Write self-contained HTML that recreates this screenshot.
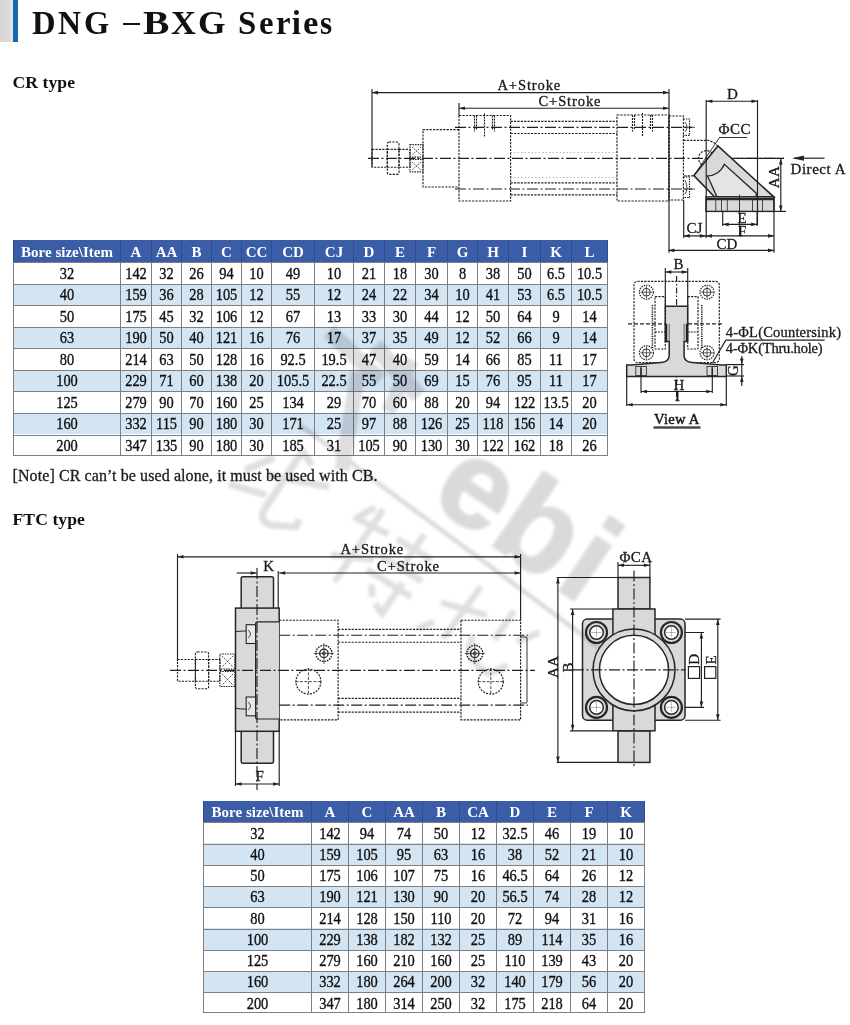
<!DOCTYPE html>
<html><head><meta charset="utf-8">
<style>
html,body{margin:0;padding:0;background:#fff;}
body{width:850px;height:1025px;position:relative;overflow:hidden;font-family:"Liberation Serif",serif;color:#1a1a1a;}
.abs{position:absolute;}
.tbl{position:absolute;}
.tbl div{position:absolute;}
.hd{background:#3b5ca7;}
.hl{left:0;height:1px;background:#7d7f82;}
.vl{width:1px;background:#7d7f82;}
.vlh{top:0;width:1px;background:#2e4d94;}
.ht{color:#fff;font-weight:bold;text-align:center;white-space:nowrap;}
.bt{color:#111;text-align:center;white-space:nowrap;transform:scaleX(0.9);-webkit-text-stroke:0.35px #111;}
.title{position:absolute;top:7px;transform-origin:0 0;font-size:33px;line-height:33px;font-weight:bold;white-space:nowrap;color:#111;}
.h2{position:absolute;font-size:17.6px;letter-spacing:0.08px;line-height:20px;font-weight:bold;white-space:nowrap;color:#111;}
.note{position:absolute;font-size:16px;line-height:18px;letter-spacing:0.09px;-webkit-text-stroke:0.3px #1b1b1b;white-space:nowrap;color:#1b1b1b;}
svg{position:absolute;left:0;top:0;}
</style></head><body>
<div class="abs" style="left:0;top:0;width:13px;height:42px;background:linear-gradient(90deg,#d6d6d6,#dcdcdc 70%,#e6e6e6)"></div>
<div class="abs" style="left:13px;top:0;width:5px;height:42px;background:#1767b0"></div>
<div class="title" style="left:32.01px;transform:scaleX(0.990)">D</div><div class="title" style="left:58.14px;transform:scaleX(0.964)">N</div><div class="title" style="left:84.23px;transform:scaleX(0.983)">G</div><div class="abs" style="left:122.5px;top:22.6px;width:17px;height:2.9px;background:#141414"></div><div class="title" style="left:142.70px;transform:scaleX(1.200)">B</div><div class="title" style="left:171.06px;transform:scaleX(1.043)">X</div><div class="title" style="left:198.25px;transform:scaleX(1.074)">G</div><div class="title" style="left:237.71px;transform:scaleX(0.993)">S</div><div class="title" style="left:258.81px;transform:scaleX(0.992)">e</div><div class="title" style="left:275.61px;transform:scaleX(0.992)">r</div><div class="title" style="left:291.65px;transform:scaleX(1.000)">i</div><div class="title" style="left:303.35px;transform:scaleX(1.046)">e</div><div class="title" style="left:319.65px;transform:scaleX(0.945)">s</div>
<div class="h2" style="left:12.5px;top:71.5px">CR type</div>
<div class="tbl" style="left:13px;top:240px;width:595px;height:215.95px">
<div class="hd" style="left:0;top:0;width:595px;height:22.00px"></div>
<div class="rw" style="left:0;top:22.00px;width:595px;height:21.55px;background:#ffffff"></div>
<div class="rw" style="left:0;top:43.55px;width:595px;height:21.55px;background:#d3e4f2"></div>
<div class="rw" style="left:0;top:65.10px;width:595px;height:21.55px;background:#ffffff"></div>
<div class="rw" style="left:0;top:86.65px;width:595px;height:21.55px;background:#d3e4f2"></div>
<div class="rw" style="left:0;top:108.20px;width:595px;height:21.55px;background:#ffffff"></div>
<div class="rw" style="left:0;top:129.75px;width:595px;height:21.55px;background:#d3e4f2"></div>
<div class="rw" style="left:0;top:151.30px;width:595px;height:21.55px;background:#ffffff"></div>
<div class="rw" style="left:0;top:172.85px;width:595px;height:21.55px;background:#d3e4f2"></div>
<div class="rw" style="left:0;top:194.40px;width:595px;height:21.55px;background:#ffffff"></div>
<div class="hl" style="top:22.10px;width:595px"></div>
<div class="hl" style="top:43.65px;width:595px"></div>
<div class="hl" style="top:65.20px;width:595px"></div>
<div class="hl" style="top:86.75px;width:595px"></div>
<div class="hl" style="top:108.30px;width:595px"></div>
<div class="hl" style="top:129.85px;width:595px"></div>
<div class="hl" style="top:151.40px;width:595px"></div>
<div class="hl" style="top:172.95px;width:595px"></div>
<div class="hl" style="top:194.50px;width:595px"></div>
<div class="hl" style="top:215.05px;width:595px"></div>
<div class="vlh" style="left:0px;height:22.00px"></div>
<div class="vl" style="left:0px;top:22.00px;height:193.95px"></div>
<div class="vlh" style="left:107px;height:22.00px"></div>
<div class="vl" style="left:107px;top:22.00px;height:193.95px"></div>
<div class="vlh" style="left:138px;height:22.00px"></div>
<div class="vl" style="left:138px;top:22.00px;height:193.95px"></div>
<div class="vlh" style="left:168px;height:22.00px"></div>
<div class="vl" style="left:168px;top:22.00px;height:193.95px"></div>
<div class="vlh" style="left:198px;height:22.00px"></div>
<div class="vl" style="left:198px;top:22.00px;height:193.95px"></div>
<div class="vlh" style="left:228px;height:22.00px"></div>
<div class="vl" style="left:228px;top:22.00px;height:193.95px"></div>
<div class="vlh" style="left:258px;height:22.00px"></div>
<div class="vl" style="left:258px;top:22.00px;height:193.95px"></div>
<div class="vlh" style="left:301px;height:22.00px"></div>
<div class="vl" style="left:301px;top:22.00px;height:193.95px"></div>
<div class="vlh" style="left:340px;height:22.00px"></div>
<div class="vl" style="left:340px;top:22.00px;height:193.95px"></div>
<div class="vlh" style="left:371px;height:22.00px"></div>
<div class="vl" style="left:371px;top:22.00px;height:193.95px"></div>
<div class="vlh" style="left:402px;height:22.00px"></div>
<div class="vl" style="left:402px;top:22.00px;height:193.95px"></div>
<div class="vlh" style="left:434px;height:22.00px"></div>
<div class="vl" style="left:434px;top:22.00px;height:193.95px"></div>
<div class="vlh" style="left:464px;height:22.00px"></div>
<div class="vl" style="left:464px;top:22.00px;height:193.95px"></div>
<div class="vlh" style="left:495px;height:22.00px"></div>
<div class="vl" style="left:495px;top:22.00px;height:193.95px"></div>
<div class="vlh" style="left:527px;height:22.00px"></div>
<div class="vl" style="left:527px;top:22.00px;height:193.95px"></div>
<div class="vlh" style="left:558px;height:22.00px"></div>
<div class="vl" style="left:558px;top:22.00px;height:193.95px"></div>
<div class="vlh" style="left:594px;height:22.00px"></div>
<div class="vl" style="left:594px;top:22.00px;height:193.95px"></div>
<div class="ht" style="left:1px;width:106px;top:0.6px;height:22.00px;line-height:23.00px;font-size:15px">Bore size\Item</div>
<div class="ht" style="left:108px;width:30px;top:0.6px;height:22.00px;line-height:23.00px;font-size:15px">A</div>
<div class="ht" style="left:139px;width:29px;top:0.6px;height:22.00px;line-height:23.00px;font-size:15px">AA</div>
<div class="ht" style="left:169px;width:29px;top:0.6px;height:22.00px;line-height:23.00px;font-size:15px">B</div>
<div class="ht" style="left:199px;width:29px;top:0.6px;height:22.00px;line-height:23.00px;font-size:15px">C</div>
<div class="ht" style="left:229px;width:29px;top:0.6px;height:22.00px;line-height:23.00px;font-size:15px">CC</div>
<div class="ht" style="left:259px;width:42px;top:0.6px;height:22.00px;line-height:23.00px;font-size:15px">CD</div>
<div class="ht" style="left:302px;width:38px;top:0.6px;height:22.00px;line-height:23.00px;font-size:15px">CJ</div>
<div class="ht" style="left:341px;width:30px;top:0.6px;height:22.00px;line-height:23.00px;font-size:15px">D</div>
<div class="ht" style="left:372px;width:30px;top:0.6px;height:22.00px;line-height:23.00px;font-size:15px">E</div>
<div class="ht" style="left:403px;width:31px;top:0.6px;height:22.00px;line-height:23.00px;font-size:15px">F</div>
<div class="ht" style="left:435px;width:29px;top:0.6px;height:22.00px;line-height:23.00px;font-size:15px">G</div>
<div class="ht" style="left:465px;width:30px;top:0.6px;height:22.00px;line-height:23.00px;font-size:15px">H</div>
<div class="ht" style="left:496px;width:31px;top:0.6px;height:22.00px;line-height:23.00px;font-size:15px">I</div>
<div class="ht" style="left:528px;width:30px;top:0.6px;height:22.00px;line-height:23.00px;font-size:15px">K</div>
<div class="ht" style="left:559px;width:35px;top:0.6px;height:22.00px;line-height:23.00px;font-size:15px">L</div>
<div class="bt" style="left:1px;width:106px;top:22.50px;height:21.55px;line-height:21.55px;font-size:16px">32</div>
<div class="bt" style="left:108px;width:30px;top:22.50px;height:21.55px;line-height:21.55px;font-size:16px">142</div>
<div class="bt" style="left:139px;width:29px;top:22.50px;height:21.55px;line-height:21.55px;font-size:16px">32</div>
<div class="bt" style="left:169px;width:29px;top:22.50px;height:21.55px;line-height:21.55px;font-size:16px">26</div>
<div class="bt" style="left:199px;width:29px;top:22.50px;height:21.55px;line-height:21.55px;font-size:16px">94</div>
<div class="bt" style="left:229px;width:29px;top:22.50px;height:21.55px;line-height:21.55px;font-size:16px">10</div>
<div class="bt" style="left:259px;width:42px;top:22.50px;height:21.55px;line-height:21.55px;font-size:16px">49</div>
<div class="bt" style="left:302px;width:38px;top:22.50px;height:21.55px;line-height:21.55px;font-size:16px">10</div>
<div class="bt" style="left:341px;width:30px;top:22.50px;height:21.55px;line-height:21.55px;font-size:16px">21</div>
<div class="bt" style="left:372px;width:30px;top:22.50px;height:21.55px;line-height:21.55px;font-size:16px">18</div>
<div class="bt" style="left:403px;width:31px;top:22.50px;height:21.55px;line-height:21.55px;font-size:16px">30</div>
<div class="bt" style="left:435px;width:29px;top:22.50px;height:21.55px;line-height:21.55px;font-size:16px">8</div>
<div class="bt" style="left:465px;width:30px;top:22.50px;height:21.55px;line-height:21.55px;font-size:16px">38</div>
<div class="bt" style="left:496px;width:31px;top:22.50px;height:21.55px;line-height:21.55px;font-size:16px">50</div>
<div class="bt" style="left:528px;width:30px;top:22.50px;height:21.55px;line-height:21.55px;font-size:16px">6.5</div>
<div class="bt" style="left:559px;width:35px;top:22.50px;height:21.55px;line-height:21.55px;font-size:16px">10.5</div>
<div class="bt" style="left:1px;width:106px;top:44.05px;height:21.55px;line-height:21.55px;font-size:16px">40</div>
<div class="bt" style="left:108px;width:30px;top:44.05px;height:21.55px;line-height:21.55px;font-size:16px">159</div>
<div class="bt" style="left:139px;width:29px;top:44.05px;height:21.55px;line-height:21.55px;font-size:16px">36</div>
<div class="bt" style="left:169px;width:29px;top:44.05px;height:21.55px;line-height:21.55px;font-size:16px">28</div>
<div class="bt" style="left:199px;width:29px;top:44.05px;height:21.55px;line-height:21.55px;font-size:16px">105</div>
<div class="bt" style="left:229px;width:29px;top:44.05px;height:21.55px;line-height:21.55px;font-size:16px">12</div>
<div class="bt" style="left:259px;width:42px;top:44.05px;height:21.55px;line-height:21.55px;font-size:16px">55</div>
<div class="bt" style="left:302px;width:38px;top:44.05px;height:21.55px;line-height:21.55px;font-size:16px">12</div>
<div class="bt" style="left:341px;width:30px;top:44.05px;height:21.55px;line-height:21.55px;font-size:16px">24</div>
<div class="bt" style="left:372px;width:30px;top:44.05px;height:21.55px;line-height:21.55px;font-size:16px">22</div>
<div class="bt" style="left:403px;width:31px;top:44.05px;height:21.55px;line-height:21.55px;font-size:16px">34</div>
<div class="bt" style="left:435px;width:29px;top:44.05px;height:21.55px;line-height:21.55px;font-size:16px">10</div>
<div class="bt" style="left:465px;width:30px;top:44.05px;height:21.55px;line-height:21.55px;font-size:16px">41</div>
<div class="bt" style="left:496px;width:31px;top:44.05px;height:21.55px;line-height:21.55px;font-size:16px">53</div>
<div class="bt" style="left:528px;width:30px;top:44.05px;height:21.55px;line-height:21.55px;font-size:16px">6.5</div>
<div class="bt" style="left:559px;width:35px;top:44.05px;height:21.55px;line-height:21.55px;font-size:16px">10.5</div>
<div class="bt" style="left:1px;width:106px;top:65.60px;height:21.55px;line-height:21.55px;font-size:16px">50</div>
<div class="bt" style="left:108px;width:30px;top:65.60px;height:21.55px;line-height:21.55px;font-size:16px">175</div>
<div class="bt" style="left:139px;width:29px;top:65.60px;height:21.55px;line-height:21.55px;font-size:16px">45</div>
<div class="bt" style="left:169px;width:29px;top:65.60px;height:21.55px;line-height:21.55px;font-size:16px">32</div>
<div class="bt" style="left:199px;width:29px;top:65.60px;height:21.55px;line-height:21.55px;font-size:16px">106</div>
<div class="bt" style="left:229px;width:29px;top:65.60px;height:21.55px;line-height:21.55px;font-size:16px">12</div>
<div class="bt" style="left:259px;width:42px;top:65.60px;height:21.55px;line-height:21.55px;font-size:16px">67</div>
<div class="bt" style="left:302px;width:38px;top:65.60px;height:21.55px;line-height:21.55px;font-size:16px">13</div>
<div class="bt" style="left:341px;width:30px;top:65.60px;height:21.55px;line-height:21.55px;font-size:16px">33</div>
<div class="bt" style="left:372px;width:30px;top:65.60px;height:21.55px;line-height:21.55px;font-size:16px">30</div>
<div class="bt" style="left:403px;width:31px;top:65.60px;height:21.55px;line-height:21.55px;font-size:16px">44</div>
<div class="bt" style="left:435px;width:29px;top:65.60px;height:21.55px;line-height:21.55px;font-size:16px">12</div>
<div class="bt" style="left:465px;width:30px;top:65.60px;height:21.55px;line-height:21.55px;font-size:16px">50</div>
<div class="bt" style="left:496px;width:31px;top:65.60px;height:21.55px;line-height:21.55px;font-size:16px">64</div>
<div class="bt" style="left:528px;width:30px;top:65.60px;height:21.55px;line-height:21.55px;font-size:16px">9</div>
<div class="bt" style="left:559px;width:35px;top:65.60px;height:21.55px;line-height:21.55px;font-size:16px">14</div>
<div class="bt" style="left:1px;width:106px;top:87.15px;height:21.55px;line-height:21.55px;font-size:16px">63</div>
<div class="bt" style="left:108px;width:30px;top:87.15px;height:21.55px;line-height:21.55px;font-size:16px">190</div>
<div class="bt" style="left:139px;width:29px;top:87.15px;height:21.55px;line-height:21.55px;font-size:16px">50</div>
<div class="bt" style="left:169px;width:29px;top:87.15px;height:21.55px;line-height:21.55px;font-size:16px">40</div>
<div class="bt" style="left:199px;width:29px;top:87.15px;height:21.55px;line-height:21.55px;font-size:16px">121</div>
<div class="bt" style="left:229px;width:29px;top:87.15px;height:21.55px;line-height:21.55px;font-size:16px">16</div>
<div class="bt" style="left:259px;width:42px;top:87.15px;height:21.55px;line-height:21.55px;font-size:16px">76</div>
<div class="bt" style="left:302px;width:38px;top:87.15px;height:21.55px;line-height:21.55px;font-size:16px">17</div>
<div class="bt" style="left:341px;width:30px;top:87.15px;height:21.55px;line-height:21.55px;font-size:16px">37</div>
<div class="bt" style="left:372px;width:30px;top:87.15px;height:21.55px;line-height:21.55px;font-size:16px">35</div>
<div class="bt" style="left:403px;width:31px;top:87.15px;height:21.55px;line-height:21.55px;font-size:16px">49</div>
<div class="bt" style="left:435px;width:29px;top:87.15px;height:21.55px;line-height:21.55px;font-size:16px">12</div>
<div class="bt" style="left:465px;width:30px;top:87.15px;height:21.55px;line-height:21.55px;font-size:16px">52</div>
<div class="bt" style="left:496px;width:31px;top:87.15px;height:21.55px;line-height:21.55px;font-size:16px">66</div>
<div class="bt" style="left:528px;width:30px;top:87.15px;height:21.55px;line-height:21.55px;font-size:16px">9</div>
<div class="bt" style="left:559px;width:35px;top:87.15px;height:21.55px;line-height:21.55px;font-size:16px">14</div>
<div class="bt" style="left:1px;width:106px;top:108.70px;height:21.55px;line-height:21.55px;font-size:16px">80</div>
<div class="bt" style="left:108px;width:30px;top:108.70px;height:21.55px;line-height:21.55px;font-size:16px">214</div>
<div class="bt" style="left:139px;width:29px;top:108.70px;height:21.55px;line-height:21.55px;font-size:16px">63</div>
<div class="bt" style="left:169px;width:29px;top:108.70px;height:21.55px;line-height:21.55px;font-size:16px">50</div>
<div class="bt" style="left:199px;width:29px;top:108.70px;height:21.55px;line-height:21.55px;font-size:16px">128</div>
<div class="bt" style="left:229px;width:29px;top:108.70px;height:21.55px;line-height:21.55px;font-size:16px">16</div>
<div class="bt" style="left:259px;width:42px;top:108.70px;height:21.55px;line-height:21.55px;font-size:16px">92.5</div>
<div class="bt" style="left:302px;width:38px;top:108.70px;height:21.55px;line-height:21.55px;font-size:16px">19.5</div>
<div class="bt" style="left:341px;width:30px;top:108.70px;height:21.55px;line-height:21.55px;font-size:16px">47</div>
<div class="bt" style="left:372px;width:30px;top:108.70px;height:21.55px;line-height:21.55px;font-size:16px">40</div>
<div class="bt" style="left:403px;width:31px;top:108.70px;height:21.55px;line-height:21.55px;font-size:16px">59</div>
<div class="bt" style="left:435px;width:29px;top:108.70px;height:21.55px;line-height:21.55px;font-size:16px">14</div>
<div class="bt" style="left:465px;width:30px;top:108.70px;height:21.55px;line-height:21.55px;font-size:16px">66</div>
<div class="bt" style="left:496px;width:31px;top:108.70px;height:21.55px;line-height:21.55px;font-size:16px">85</div>
<div class="bt" style="left:528px;width:30px;top:108.70px;height:21.55px;line-height:21.55px;font-size:16px">11</div>
<div class="bt" style="left:559px;width:35px;top:108.70px;height:21.55px;line-height:21.55px;font-size:16px">17</div>
<div class="bt" style="left:1px;width:106px;top:130.25px;height:21.55px;line-height:21.55px;font-size:16px">100</div>
<div class="bt" style="left:108px;width:30px;top:130.25px;height:21.55px;line-height:21.55px;font-size:16px">229</div>
<div class="bt" style="left:139px;width:29px;top:130.25px;height:21.55px;line-height:21.55px;font-size:16px">71</div>
<div class="bt" style="left:169px;width:29px;top:130.25px;height:21.55px;line-height:21.55px;font-size:16px">60</div>
<div class="bt" style="left:199px;width:29px;top:130.25px;height:21.55px;line-height:21.55px;font-size:16px">138</div>
<div class="bt" style="left:229px;width:29px;top:130.25px;height:21.55px;line-height:21.55px;font-size:16px">20</div>
<div class="bt" style="left:259px;width:42px;top:130.25px;height:21.55px;line-height:21.55px;font-size:16px">105.5</div>
<div class="bt" style="left:302px;width:38px;top:130.25px;height:21.55px;line-height:21.55px;font-size:16px">22.5</div>
<div class="bt" style="left:341px;width:30px;top:130.25px;height:21.55px;line-height:21.55px;font-size:16px">55</div>
<div class="bt" style="left:372px;width:30px;top:130.25px;height:21.55px;line-height:21.55px;font-size:16px">50</div>
<div class="bt" style="left:403px;width:31px;top:130.25px;height:21.55px;line-height:21.55px;font-size:16px">69</div>
<div class="bt" style="left:435px;width:29px;top:130.25px;height:21.55px;line-height:21.55px;font-size:16px">15</div>
<div class="bt" style="left:465px;width:30px;top:130.25px;height:21.55px;line-height:21.55px;font-size:16px">76</div>
<div class="bt" style="left:496px;width:31px;top:130.25px;height:21.55px;line-height:21.55px;font-size:16px">95</div>
<div class="bt" style="left:528px;width:30px;top:130.25px;height:21.55px;line-height:21.55px;font-size:16px">11</div>
<div class="bt" style="left:559px;width:35px;top:130.25px;height:21.55px;line-height:21.55px;font-size:16px">17</div>
<div class="bt" style="left:1px;width:106px;top:151.80px;height:21.55px;line-height:21.55px;font-size:16px">125</div>
<div class="bt" style="left:108px;width:30px;top:151.80px;height:21.55px;line-height:21.55px;font-size:16px">279</div>
<div class="bt" style="left:139px;width:29px;top:151.80px;height:21.55px;line-height:21.55px;font-size:16px">90</div>
<div class="bt" style="left:169px;width:29px;top:151.80px;height:21.55px;line-height:21.55px;font-size:16px">70</div>
<div class="bt" style="left:199px;width:29px;top:151.80px;height:21.55px;line-height:21.55px;font-size:16px">160</div>
<div class="bt" style="left:229px;width:29px;top:151.80px;height:21.55px;line-height:21.55px;font-size:16px">25</div>
<div class="bt" style="left:259px;width:42px;top:151.80px;height:21.55px;line-height:21.55px;font-size:16px">134</div>
<div class="bt" style="left:302px;width:38px;top:151.80px;height:21.55px;line-height:21.55px;font-size:16px">29</div>
<div class="bt" style="left:341px;width:30px;top:151.80px;height:21.55px;line-height:21.55px;font-size:16px">70</div>
<div class="bt" style="left:372px;width:30px;top:151.80px;height:21.55px;line-height:21.55px;font-size:16px">60</div>
<div class="bt" style="left:403px;width:31px;top:151.80px;height:21.55px;line-height:21.55px;font-size:16px">88</div>
<div class="bt" style="left:435px;width:29px;top:151.80px;height:21.55px;line-height:21.55px;font-size:16px">20</div>
<div class="bt" style="left:465px;width:30px;top:151.80px;height:21.55px;line-height:21.55px;font-size:16px">94</div>
<div class="bt" style="left:496px;width:31px;top:151.80px;height:21.55px;line-height:21.55px;font-size:16px">122</div>
<div class="bt" style="left:528px;width:30px;top:151.80px;height:21.55px;line-height:21.55px;font-size:16px">13.5</div>
<div class="bt" style="left:559px;width:35px;top:151.80px;height:21.55px;line-height:21.55px;font-size:16px">20</div>
<div class="bt" style="left:1px;width:106px;top:173.35px;height:21.55px;line-height:21.55px;font-size:16px">160</div>
<div class="bt" style="left:108px;width:30px;top:173.35px;height:21.55px;line-height:21.55px;font-size:16px">332</div>
<div class="bt" style="left:139px;width:29px;top:173.35px;height:21.55px;line-height:21.55px;font-size:16px">115</div>
<div class="bt" style="left:169px;width:29px;top:173.35px;height:21.55px;line-height:21.55px;font-size:16px">90</div>
<div class="bt" style="left:199px;width:29px;top:173.35px;height:21.55px;line-height:21.55px;font-size:16px">180</div>
<div class="bt" style="left:229px;width:29px;top:173.35px;height:21.55px;line-height:21.55px;font-size:16px">30</div>
<div class="bt" style="left:259px;width:42px;top:173.35px;height:21.55px;line-height:21.55px;font-size:16px">171</div>
<div class="bt" style="left:302px;width:38px;top:173.35px;height:21.55px;line-height:21.55px;font-size:16px">25</div>
<div class="bt" style="left:341px;width:30px;top:173.35px;height:21.55px;line-height:21.55px;font-size:16px">97</div>
<div class="bt" style="left:372px;width:30px;top:173.35px;height:21.55px;line-height:21.55px;font-size:16px">88</div>
<div class="bt" style="left:403px;width:31px;top:173.35px;height:21.55px;line-height:21.55px;font-size:16px">126</div>
<div class="bt" style="left:435px;width:29px;top:173.35px;height:21.55px;line-height:21.55px;font-size:16px">25</div>
<div class="bt" style="left:465px;width:30px;top:173.35px;height:21.55px;line-height:21.55px;font-size:16px">118</div>
<div class="bt" style="left:496px;width:31px;top:173.35px;height:21.55px;line-height:21.55px;font-size:16px">156</div>
<div class="bt" style="left:528px;width:30px;top:173.35px;height:21.55px;line-height:21.55px;font-size:16px">14</div>
<div class="bt" style="left:559px;width:35px;top:173.35px;height:21.55px;line-height:21.55px;font-size:16px">20</div>
<div class="bt" style="left:1px;width:106px;top:194.90px;height:21.55px;line-height:21.55px;font-size:16px">200</div>
<div class="bt" style="left:108px;width:30px;top:194.90px;height:21.55px;line-height:21.55px;font-size:16px">347</div>
<div class="bt" style="left:139px;width:29px;top:194.90px;height:21.55px;line-height:21.55px;font-size:16px">135</div>
<div class="bt" style="left:169px;width:29px;top:194.90px;height:21.55px;line-height:21.55px;font-size:16px">90</div>
<div class="bt" style="left:199px;width:29px;top:194.90px;height:21.55px;line-height:21.55px;font-size:16px">180</div>
<div class="bt" style="left:229px;width:29px;top:194.90px;height:21.55px;line-height:21.55px;font-size:16px">30</div>
<div class="bt" style="left:259px;width:42px;top:194.90px;height:21.55px;line-height:21.55px;font-size:16px">185</div>
<div class="bt" style="left:302px;width:38px;top:194.90px;height:21.55px;line-height:21.55px;font-size:16px">31</div>
<div class="bt" style="left:341px;width:30px;top:194.90px;height:21.55px;line-height:21.55px;font-size:16px">105</div>
<div class="bt" style="left:372px;width:30px;top:194.90px;height:21.55px;line-height:21.55px;font-size:16px">90</div>
<div class="bt" style="left:403px;width:31px;top:194.90px;height:21.55px;line-height:21.55px;font-size:16px">130</div>
<div class="bt" style="left:435px;width:29px;top:194.90px;height:21.55px;line-height:21.55px;font-size:16px">30</div>
<div class="bt" style="left:465px;width:30px;top:194.90px;height:21.55px;line-height:21.55px;font-size:16px">122</div>
<div class="bt" style="left:496px;width:31px;top:194.90px;height:21.55px;line-height:21.55px;font-size:16px">162</div>
<div class="bt" style="left:528px;width:30px;top:194.90px;height:21.55px;line-height:21.55px;font-size:16px">18</div>
<div class="bt" style="left:559px;width:35px;top:194.90px;height:21.55px;line-height:21.55px;font-size:16px">26</div>
</div>
<div class="note" style="left:12.5px;top:467px">[Note] CR can’t be used alone, it must be used with CB.</div>
<div class="h2" style="left:12.5px;top:508.5px">FTC type</div>
<div class="tbl" style="left:203px;top:801px;width:442px;height:212.27px">
<div class="hd" style="left:0;top:0;width:442px;height:21.20px"></div>
<div class="rw" style="left:0;top:21.20px;width:442px;height:21.23px;background:#ffffff"></div>
<div class="rw" style="left:0;top:42.43px;width:442px;height:21.23px;background:#d3e4f2"></div>
<div class="rw" style="left:0;top:63.66px;width:442px;height:21.23px;background:#ffffff"></div>
<div class="rw" style="left:0;top:84.89px;width:442px;height:21.23px;background:#d3e4f2"></div>
<div class="rw" style="left:0;top:106.12px;width:442px;height:21.23px;background:#ffffff"></div>
<div class="rw" style="left:0;top:127.35px;width:442px;height:21.23px;background:#d3e4f2"></div>
<div class="rw" style="left:0;top:148.58px;width:442px;height:21.23px;background:#ffffff"></div>
<div class="rw" style="left:0;top:169.81px;width:442px;height:21.23px;background:#d3e4f2"></div>
<div class="rw" style="left:0;top:191.04px;width:442px;height:21.23px;background:#ffffff"></div>
<div class="hl" style="top:21.40px;width:442px"></div>
<div class="hl" style="top:42.63px;width:442px"></div>
<div class="hl" style="top:63.86px;width:442px"></div>
<div class="hl" style="top:85.09px;width:442px"></div>
<div class="hl" style="top:106.32px;width:442px"></div>
<div class="hl" style="top:127.55px;width:442px"></div>
<div class="hl" style="top:148.78px;width:442px"></div>
<div class="hl" style="top:170.01px;width:442px"></div>
<div class="hl" style="top:191.24px;width:442px"></div>
<div class="hl" style="top:211.47px;width:442px"></div>
<div class="vlh" style="left:0px;height:21.20px"></div>
<div class="vl" style="left:0px;top:21.20px;height:191.07px"></div>
<div class="vlh" style="left:108px;height:21.20px"></div>
<div class="vl" style="left:108px;top:21.20px;height:191.07px"></div>
<div class="vlh" style="left:145px;height:21.20px"></div>
<div class="vl" style="left:145px;top:21.20px;height:191.07px"></div>
<div class="vlh" style="left:182px;height:21.20px"></div>
<div class="vl" style="left:182px;top:21.20px;height:191.07px"></div>
<div class="vlh" style="left:219px;height:21.20px"></div>
<div class="vl" style="left:219px;top:21.20px;height:191.07px"></div>
<div class="vlh" style="left:256px;height:21.20px"></div>
<div class="vl" style="left:256px;top:21.20px;height:191.07px"></div>
<div class="vlh" style="left:293px;height:21.20px"></div>
<div class="vl" style="left:293px;top:21.20px;height:191.07px"></div>
<div class="vlh" style="left:330px;height:21.20px"></div>
<div class="vl" style="left:330px;top:21.20px;height:191.07px"></div>
<div class="vlh" style="left:367px;height:21.20px"></div>
<div class="vl" style="left:367px;top:21.20px;height:191.07px"></div>
<div class="vlh" style="left:404px;height:21.20px"></div>
<div class="vl" style="left:404px;top:21.20px;height:191.07px"></div>
<div class="vlh" style="left:441px;height:21.20px"></div>
<div class="vl" style="left:441px;top:21.20px;height:191.07px"></div>
<div class="ht" style="left:1px;width:107px;top:0.3px;height:21.20px;line-height:22.20px;font-size:15px">Bore size\Item</div>
<div class="ht" style="left:109px;width:36px;top:0.3px;height:21.20px;line-height:22.20px;font-size:15px">A</div>
<div class="ht" style="left:146px;width:36px;top:0.3px;height:21.20px;line-height:22.20px;font-size:15px">C</div>
<div class="ht" style="left:183px;width:36px;top:0.3px;height:21.20px;line-height:22.20px;font-size:15px">AA</div>
<div class="ht" style="left:220px;width:36px;top:0.3px;height:21.20px;line-height:22.20px;font-size:15px">B</div>
<div class="ht" style="left:257px;width:36px;top:0.3px;height:21.20px;line-height:22.20px;font-size:15px">CA</div>
<div class="ht" style="left:294px;width:36px;top:0.3px;height:21.20px;line-height:22.20px;font-size:15px">D</div>
<div class="ht" style="left:331px;width:36px;top:0.3px;height:21.20px;line-height:22.20px;font-size:15px">E</div>
<div class="ht" style="left:368px;width:36px;top:0.3px;height:21.20px;line-height:22.20px;font-size:15px">F</div>
<div class="ht" style="left:405px;width:36px;top:0.3px;height:21.20px;line-height:22.20px;font-size:15px">K</div>
<div class="bt" style="left:1px;width:107px;top:21.70px;height:21.23px;line-height:21.23px;font-size:16px">32</div>
<div class="bt" style="left:109px;width:36px;top:21.70px;height:21.23px;line-height:21.23px;font-size:16px">142</div>
<div class="bt" style="left:146px;width:36px;top:21.70px;height:21.23px;line-height:21.23px;font-size:16px">94</div>
<div class="bt" style="left:183px;width:36px;top:21.70px;height:21.23px;line-height:21.23px;font-size:16px">74</div>
<div class="bt" style="left:220px;width:36px;top:21.70px;height:21.23px;line-height:21.23px;font-size:16px">50</div>
<div class="bt" style="left:257px;width:36px;top:21.70px;height:21.23px;line-height:21.23px;font-size:16px">12</div>
<div class="bt" style="left:294px;width:36px;top:21.70px;height:21.23px;line-height:21.23px;font-size:16px">32.5</div>
<div class="bt" style="left:331px;width:36px;top:21.70px;height:21.23px;line-height:21.23px;font-size:16px">46</div>
<div class="bt" style="left:368px;width:36px;top:21.70px;height:21.23px;line-height:21.23px;font-size:16px">19</div>
<div class="bt" style="left:405px;width:36px;top:21.70px;height:21.23px;line-height:21.23px;font-size:16px">10</div>
<div class="bt" style="left:1px;width:107px;top:42.93px;height:21.23px;line-height:21.23px;font-size:16px">40</div>
<div class="bt" style="left:109px;width:36px;top:42.93px;height:21.23px;line-height:21.23px;font-size:16px">159</div>
<div class="bt" style="left:146px;width:36px;top:42.93px;height:21.23px;line-height:21.23px;font-size:16px">105</div>
<div class="bt" style="left:183px;width:36px;top:42.93px;height:21.23px;line-height:21.23px;font-size:16px">95</div>
<div class="bt" style="left:220px;width:36px;top:42.93px;height:21.23px;line-height:21.23px;font-size:16px">63</div>
<div class="bt" style="left:257px;width:36px;top:42.93px;height:21.23px;line-height:21.23px;font-size:16px">16</div>
<div class="bt" style="left:294px;width:36px;top:42.93px;height:21.23px;line-height:21.23px;font-size:16px">38</div>
<div class="bt" style="left:331px;width:36px;top:42.93px;height:21.23px;line-height:21.23px;font-size:16px">52</div>
<div class="bt" style="left:368px;width:36px;top:42.93px;height:21.23px;line-height:21.23px;font-size:16px">21</div>
<div class="bt" style="left:405px;width:36px;top:42.93px;height:21.23px;line-height:21.23px;font-size:16px">10</div>
<div class="bt" style="left:1px;width:107px;top:64.16px;height:21.23px;line-height:21.23px;font-size:16px">50</div>
<div class="bt" style="left:109px;width:36px;top:64.16px;height:21.23px;line-height:21.23px;font-size:16px">175</div>
<div class="bt" style="left:146px;width:36px;top:64.16px;height:21.23px;line-height:21.23px;font-size:16px">106</div>
<div class="bt" style="left:183px;width:36px;top:64.16px;height:21.23px;line-height:21.23px;font-size:16px">107</div>
<div class="bt" style="left:220px;width:36px;top:64.16px;height:21.23px;line-height:21.23px;font-size:16px">75</div>
<div class="bt" style="left:257px;width:36px;top:64.16px;height:21.23px;line-height:21.23px;font-size:16px">16</div>
<div class="bt" style="left:294px;width:36px;top:64.16px;height:21.23px;line-height:21.23px;font-size:16px">46.5</div>
<div class="bt" style="left:331px;width:36px;top:64.16px;height:21.23px;line-height:21.23px;font-size:16px">64</div>
<div class="bt" style="left:368px;width:36px;top:64.16px;height:21.23px;line-height:21.23px;font-size:16px">26</div>
<div class="bt" style="left:405px;width:36px;top:64.16px;height:21.23px;line-height:21.23px;font-size:16px">12</div>
<div class="bt" style="left:1px;width:107px;top:85.39px;height:21.23px;line-height:21.23px;font-size:16px">63</div>
<div class="bt" style="left:109px;width:36px;top:85.39px;height:21.23px;line-height:21.23px;font-size:16px">190</div>
<div class="bt" style="left:146px;width:36px;top:85.39px;height:21.23px;line-height:21.23px;font-size:16px">121</div>
<div class="bt" style="left:183px;width:36px;top:85.39px;height:21.23px;line-height:21.23px;font-size:16px">130</div>
<div class="bt" style="left:220px;width:36px;top:85.39px;height:21.23px;line-height:21.23px;font-size:16px">90</div>
<div class="bt" style="left:257px;width:36px;top:85.39px;height:21.23px;line-height:21.23px;font-size:16px">20</div>
<div class="bt" style="left:294px;width:36px;top:85.39px;height:21.23px;line-height:21.23px;font-size:16px">56.5</div>
<div class="bt" style="left:331px;width:36px;top:85.39px;height:21.23px;line-height:21.23px;font-size:16px">74</div>
<div class="bt" style="left:368px;width:36px;top:85.39px;height:21.23px;line-height:21.23px;font-size:16px">28</div>
<div class="bt" style="left:405px;width:36px;top:85.39px;height:21.23px;line-height:21.23px;font-size:16px">12</div>
<div class="bt" style="left:1px;width:107px;top:106.62px;height:21.23px;line-height:21.23px;font-size:16px">80</div>
<div class="bt" style="left:109px;width:36px;top:106.62px;height:21.23px;line-height:21.23px;font-size:16px">214</div>
<div class="bt" style="left:146px;width:36px;top:106.62px;height:21.23px;line-height:21.23px;font-size:16px">128</div>
<div class="bt" style="left:183px;width:36px;top:106.62px;height:21.23px;line-height:21.23px;font-size:16px">150</div>
<div class="bt" style="left:220px;width:36px;top:106.62px;height:21.23px;line-height:21.23px;font-size:16px">110</div>
<div class="bt" style="left:257px;width:36px;top:106.62px;height:21.23px;line-height:21.23px;font-size:16px">20</div>
<div class="bt" style="left:294px;width:36px;top:106.62px;height:21.23px;line-height:21.23px;font-size:16px">72</div>
<div class="bt" style="left:331px;width:36px;top:106.62px;height:21.23px;line-height:21.23px;font-size:16px">94</div>
<div class="bt" style="left:368px;width:36px;top:106.62px;height:21.23px;line-height:21.23px;font-size:16px">31</div>
<div class="bt" style="left:405px;width:36px;top:106.62px;height:21.23px;line-height:21.23px;font-size:16px">16</div>
<div class="bt" style="left:1px;width:107px;top:127.85px;height:21.23px;line-height:21.23px;font-size:16px">100</div>
<div class="bt" style="left:109px;width:36px;top:127.85px;height:21.23px;line-height:21.23px;font-size:16px">229</div>
<div class="bt" style="left:146px;width:36px;top:127.85px;height:21.23px;line-height:21.23px;font-size:16px">138</div>
<div class="bt" style="left:183px;width:36px;top:127.85px;height:21.23px;line-height:21.23px;font-size:16px">182</div>
<div class="bt" style="left:220px;width:36px;top:127.85px;height:21.23px;line-height:21.23px;font-size:16px">132</div>
<div class="bt" style="left:257px;width:36px;top:127.85px;height:21.23px;line-height:21.23px;font-size:16px">25</div>
<div class="bt" style="left:294px;width:36px;top:127.85px;height:21.23px;line-height:21.23px;font-size:16px">89</div>
<div class="bt" style="left:331px;width:36px;top:127.85px;height:21.23px;line-height:21.23px;font-size:16px">114</div>
<div class="bt" style="left:368px;width:36px;top:127.85px;height:21.23px;line-height:21.23px;font-size:16px">35</div>
<div class="bt" style="left:405px;width:36px;top:127.85px;height:21.23px;line-height:21.23px;font-size:16px">16</div>
<div class="bt" style="left:1px;width:107px;top:149.08px;height:21.23px;line-height:21.23px;font-size:16px">125</div>
<div class="bt" style="left:109px;width:36px;top:149.08px;height:21.23px;line-height:21.23px;font-size:16px">279</div>
<div class="bt" style="left:146px;width:36px;top:149.08px;height:21.23px;line-height:21.23px;font-size:16px">160</div>
<div class="bt" style="left:183px;width:36px;top:149.08px;height:21.23px;line-height:21.23px;font-size:16px">210</div>
<div class="bt" style="left:220px;width:36px;top:149.08px;height:21.23px;line-height:21.23px;font-size:16px">160</div>
<div class="bt" style="left:257px;width:36px;top:149.08px;height:21.23px;line-height:21.23px;font-size:16px">25</div>
<div class="bt" style="left:294px;width:36px;top:149.08px;height:21.23px;line-height:21.23px;font-size:16px">110</div>
<div class="bt" style="left:331px;width:36px;top:149.08px;height:21.23px;line-height:21.23px;font-size:16px">139</div>
<div class="bt" style="left:368px;width:36px;top:149.08px;height:21.23px;line-height:21.23px;font-size:16px">43</div>
<div class="bt" style="left:405px;width:36px;top:149.08px;height:21.23px;line-height:21.23px;font-size:16px">20</div>
<div class="bt" style="left:1px;width:107px;top:170.31px;height:21.23px;line-height:21.23px;font-size:16px">160</div>
<div class="bt" style="left:109px;width:36px;top:170.31px;height:21.23px;line-height:21.23px;font-size:16px">332</div>
<div class="bt" style="left:146px;width:36px;top:170.31px;height:21.23px;line-height:21.23px;font-size:16px">180</div>
<div class="bt" style="left:183px;width:36px;top:170.31px;height:21.23px;line-height:21.23px;font-size:16px">264</div>
<div class="bt" style="left:220px;width:36px;top:170.31px;height:21.23px;line-height:21.23px;font-size:16px">200</div>
<div class="bt" style="left:257px;width:36px;top:170.31px;height:21.23px;line-height:21.23px;font-size:16px">32</div>
<div class="bt" style="left:294px;width:36px;top:170.31px;height:21.23px;line-height:21.23px;font-size:16px">140</div>
<div class="bt" style="left:331px;width:36px;top:170.31px;height:21.23px;line-height:21.23px;font-size:16px">179</div>
<div class="bt" style="left:368px;width:36px;top:170.31px;height:21.23px;line-height:21.23px;font-size:16px">56</div>
<div class="bt" style="left:405px;width:36px;top:170.31px;height:21.23px;line-height:21.23px;font-size:16px">20</div>
<div class="bt" style="left:1px;width:107px;top:191.54px;height:21.23px;line-height:21.23px;font-size:16px">200</div>
<div class="bt" style="left:109px;width:36px;top:191.54px;height:21.23px;line-height:21.23px;font-size:16px">347</div>
<div class="bt" style="left:146px;width:36px;top:191.54px;height:21.23px;line-height:21.23px;font-size:16px">180</div>
<div class="bt" style="left:183px;width:36px;top:191.54px;height:21.23px;line-height:21.23px;font-size:16px">314</div>
<div class="bt" style="left:220px;width:36px;top:191.54px;height:21.23px;line-height:21.23px;font-size:16px">250</div>
<div class="bt" style="left:257px;width:36px;top:191.54px;height:21.23px;line-height:21.23px;font-size:16px">32</div>
<div class="bt" style="left:294px;width:36px;top:191.54px;height:21.23px;line-height:21.23px;font-size:16px">175</div>
<div class="bt" style="left:331px;width:36px;top:191.54px;height:21.23px;line-height:21.23px;font-size:16px">218</div>
<div class="bt" style="left:368px;width:36px;top:191.54px;height:21.23px;line-height:21.23px;font-size:16px">64</div>
<div class="bt" style="left:405px;width:36px;top:191.54px;height:21.23px;line-height:21.23px;font-size:16px">20</div>
</div>
<svg width="850" height="1025" style="position:absolute;left:0;top:0" font-family="Liberation Serif" fill="#1a1a1a"><line x1="372" y1="92.6" x2="669" y2="92.6" stroke="#202020" stroke-width="1.15"/>
<polygon points="372.0,92.6 378.0,90.8 378.0,94.4" fill="#222"/>
<polygon points="669.0,92.6 663.0,90.8 663.0,94.4" fill="#222"/>
<line x1="372" y1="89" x2="372" y2="167" stroke="#202020" stroke-width="1.15"/>
<text x="497.5" y="90.2" font-size="14.5" text-anchor="start" letter-spacing="0.9" stroke="#1a1a1a" stroke-width="0.3" >A+Stroke</text>
<line x1="459" y1="108.2" x2="669" y2="108.2" stroke="#202020" stroke-width="1.15"/>
<polygon points="459.0,108.2 465.0,106.4 465.0,110.0" fill="#222"/>
<polygon points="669.0,108.2 663.0,106.4 663.0,110.0" fill="#222"/>
<line x1="459" y1="103" x2="459" y2="115.5" stroke="#202020" stroke-width="1.15"/>
<text x="538.5" y="106.3" font-size="14.5" text-anchor="start" letter-spacing="0.9" stroke="#1a1a1a" stroke-width="0.3" >C+Stroke</text>
<line x1="669" y1="89" x2="669" y2="252.7" stroke="#202020" stroke-width="1.15"/>
<line x1="368" y1="158.3" x2="784" y2="158.3" stroke="#202020" stroke-width="1.15" stroke-dasharray="11 2.5 2 2.5"/>
<rect x="459" y="115.5" width="51.6" height="85.5" stroke="#202020" stroke-width="1.15" fill="none" stroke-dasharray="2.2 1.2"/>
<path d="M459,129.6 L423,129.6 L423,187 L459,187" stroke="#202020" stroke-width="1.15" fill="none" stroke-dasharray="2.2 1.2" />
<path d="M474.5,115.5 L474.5,131.5 M484.5,113.5 L484.5,137 M494.5,115.5 L494.5,131.5 M476.5,115.5 L476.5,130 M492.5,115.5 L492.5,130" stroke="#202020" stroke-width="1.15" fill="none" stroke-dasharray="2 1" />
<rect x="372" y="149.4" width="15.3" height="17.8" stroke="#202020" stroke-width="1.15" fill="none" stroke-dasharray="2.2 1.2"/>
<path d="M389,142 L397,142 Q399,142 399,144 L399,172.4 Q399,174.4 397,174.4 L389,174.4 Q387.3,174.4 387.3,172.4 L387.3,144 Q387.3,142 389,142 Z" stroke="#202020" stroke-width="1.15" fill="none" stroke-dasharray="2.2 1.2" />
<line x1="387.3" y1="149.4" x2="399" y2="149.4" stroke="#202020" stroke-width="1.15" stroke-dasharray="2.2 1.2"/>
<line x1="387.3" y1="167.2" x2="399" y2="167.2" stroke="#202020" stroke-width="1.15" stroke-dasharray="2.2 1.2"/>
<rect x="399" y="149.4" width="11" height="17.8" stroke="#202020" stroke-width="1.15" fill="none" stroke-dasharray="2.2 1.2"/>
<rect x="410" y="144.6" width="13" height="12.5" stroke="#202020" stroke-width="1.15" fill="none" stroke-dasharray="1.5 1"/>
<rect x="410" y="159.4" width="13" height="12.5" stroke="#202020" stroke-width="1.15" fill="none" stroke-dasharray="1.5 1"/>
<path d="M412,147 L421,155 M421,147 L412,155 M412,162 L421,170 M421,162 L412,170" stroke="#202020" stroke-width="0.8" fill="none" stroke-dasharray="1.5 1" />
<line x1="455" y1="127.3" x2="692" y2="127.3" stroke="#202020" stroke-width="1.15" stroke-dasharray="11 2.5 2 2.5"/>
<line x1="455" y1="189" x2="692" y2="189" stroke="#202020" stroke-width="1.15" stroke-dasharray="11 2.5 2 2.5"/>
<line x1="510.6" y1="121.3" x2="617" y2="121.3" stroke="#202020" stroke-width="1.15" stroke-dasharray="2.2 1.2"/>
<line x1="510.6" y1="133.5" x2="617" y2="133.5" stroke="#202020" stroke-width="1.15" stroke-dasharray="2.2 1.2"/>
<line x1="510.6" y1="182.9" x2="617" y2="182.9" stroke="#202020" stroke-width="1.15" stroke-dasharray="2.2 1.2"/>
<line x1="510.6" y1="194.8" x2="617" y2="194.8" stroke="#202020" stroke-width="1.15" stroke-dasharray="2.2 1.2"/>
<line x1="510.6" y1="152.5" x2="617" y2="152.5" stroke="#9a9a9a" stroke-width="0.7" stroke-dasharray="1.5 2"/>
<line x1="510.6" y1="177.5" x2="617" y2="177.5" stroke="#9a9a9a" stroke-width="0.7" stroke-dasharray="1.5 2"/>
<rect x="617" y="115" width="52" height="86" stroke="#202020" stroke-width="1.15" fill="none" stroke-dasharray="2.2 1.2"/>
<path d="M632.5,115 L632.5,131.5 M642.5,113 L642.5,137 M652.5,115 L652.5,131.5 M634.5,115 L634.5,130 M650.5,115 L650.5,130" stroke="#202020" stroke-width="1.15" fill="none" stroke-dasharray="2 1" />
<rect x="669" y="116" width="14.4" height="84" stroke="#202020" stroke-width="1.15" fill="none" stroke-dasharray="2.2 1.2"/>
<path d="M683.4,119 L689.5,119 L689.5,135.4 L683.4,135.4" stroke="#202020" stroke-width="1.15" fill="none" stroke-dasharray="1.5 1" />
<path d="M683.4,177 L689.5,177 L689.5,197.5 L683.4,197.5" stroke="#202020" stroke-width="1.15" fill="none" stroke-dasharray="1.5 1" />
<path d="M685,122 Q689,127.3 685,132 M683.4,127.3 L695,127.3" stroke="#202020" stroke-width="0.8" fill="none" />
<path d="M685,180 Q689,189 685,194 M683.4,189 L695,189" stroke="#202020" stroke-width="0.8" fill="none" />
<path d="M683.4,140.3 L707.4,140.3 A18,18 0 0 1 707.4,175.8 L683.4,175.8" stroke="#202020" stroke-width="1.15" fill="none" stroke-dasharray="2.2 1.2" />
<circle cx="706.4" cy="158.4" r="7.8" stroke="#202020" stroke-width="1.15" fill="none" stroke-dasharray="2.2 1.2"/>
<path d="M693.9,175.6 L717.9,146 L773.7,196.8 L714.4,196.8 Z" stroke="#262626" stroke-width="1.6" fill="#d9d9d9" />
<path d="M707.4,175.8 L717,196.8 L754,196.8 Q757.5,196.8 756,193 L724.3,164.3 A18,18 0 0 1 707.4,175.8 Z" stroke="#262626" stroke-width="1.3" fill="#e4e4e4" />
<line x1="693.9" y1="175.6" x2="719.4" y2="137.6" stroke="#202020" stroke-width="0.9"/>
<line x1="719" y1="137.5" x2="747" y2="137.5" stroke="#202020" stroke-width="0.9"/>
<text x="718.5" y="133.6" font-size="15" text-anchor="start" letter-spacing="0.5" stroke="#1a1a1a" stroke-width="0.3" >ΦCC</text>
<rect x="706" y="196.9" width="68" height="14.5" stroke="#262626" stroke-width="1.4" fill="#d9d9d9"/>
<line x1="706" y1="199.2" x2="774" y2="199.2" stroke="#262626" stroke-width="2.2"/>
<line x1="715.8" y1="199" x2="715.8" y2="211.4" stroke="#333" stroke-width="0.9"/>
<line x1="721.5" y1="199" x2="721.5" y2="211.4" stroke="#333" stroke-width="0.9"/>
<line x1="727.3" y1="199" x2="727.3" y2="211.4" stroke="#333" stroke-width="0.9"/>
<line x1="752.5" y1="199" x2="752.5" y2="211.4" stroke="#333" stroke-width="0.9"/>
<line x1="757.5" y1="199" x2="757.5" y2="211.4" stroke="#333" stroke-width="0.9"/>
<line x1="762.5" y1="199" x2="762.5" y2="211.4" stroke="#333" stroke-width="0.9"/>
<line x1="739.5" y1="194.6" x2="739.5" y2="236" stroke="#202020" stroke-width="0.9"/>
<line x1="706.2" y1="100" x2="706.2" y2="238" stroke="#202020" stroke-width="1.15"/>
<line x1="757.5" y1="100" x2="757.5" y2="225" stroke="#202020" stroke-width="1.15"/>
<line x1="706.4" y1="101.2" x2="757.5" y2="101.2" stroke="#202020" stroke-width="1.15"/>
<polygon points="706.4,101.2 712.4,99.4 712.4,103.0" fill="#222"/>
<polygon points="757.5,101.2 751.5,99.4 751.5,103.0" fill="#222"/>
<text x="727" y="99" font-size="15" text-anchor="start" letter-spacing="0" stroke="#1a1a1a" stroke-width="0.3" >D</text>
<line x1="780.8" y1="158.4" x2="780.8" y2="211.4" stroke="#202020" stroke-width="1.15"/>
<polygon points="780.8,158.4 779.0,164.4 782.6,164.4" fill="#222"/>
<polygon points="780.8,211.4 779.0,205.4 782.6,205.4" fill="#222"/>
<line x1="774" y1="211.4" x2="786" y2="211.4" stroke="#202020" stroke-width="1.15"/>
<line x1="737" y1="158.3" x2="784" y2="158.3" stroke="#202020" stroke-width="1.15"/>
<text x="779.4" y="188.3" font-size="15" text-anchor="start" letter-spacing="0.5" stroke="#1a1a1a" stroke-width="0.3" transform="rotate(-90 779.4 188.3)" >AA</text>
<line x1="794" y1="158.2" x2="824.5" y2="158.2" stroke="#202020" stroke-width="1.2"/>
<polygon points="792.4,158.2 803.9,155.6 803.9,160.8" fill="#222"/>
<text x="790.5" y="173.9" font-size="15" text-anchor="start" letter-spacing="0.55" stroke="#1a1a1a" stroke-width="0.3" >Direct A</text>
<line x1="722.7" y1="211.4" x2="722.7" y2="226" stroke="#202020" stroke-width="1.15"/>
<line x1="757.1" y1="211.4" x2="757.1" y2="226" stroke="#202020" stroke-width="1.15"/>
<line x1="722.7" y1="224.4" x2="757.1" y2="224.4" stroke="#202020" stroke-width="1.15"/>
<polygon points="722.7,224.4 728.7,222.6 728.7,226.2" fill="#222"/>
<polygon points="757.1,224.4 751.1,222.6 751.1,226.2" fill="#222"/>
<text x="737.5" y="222.9" font-size="15" text-anchor="start" letter-spacing="0" stroke="#1a1a1a" stroke-width="0.3" >E</text>
<line x1="683.7" y1="200" x2="683.7" y2="238" stroke="#202020" stroke-width="1.15"/>
<line x1="774" y1="196.8" x2="774" y2="252.7" stroke="#202020" stroke-width="1.15"/>
<line x1="683.7" y1="235.9" x2="774" y2="235.9" stroke="#202020" stroke-width="1.15"/>
<polygon points="683.7,235.9 689.7,234.1 689.7,237.7" fill="#222"/>
<polygon points="705.9,235.9 699.9,234.1 699.9,237.7" fill="#222"/>
<polygon points="705.9,235.9 711.9,234.1 711.9,237.7" fill="#222"/>
<polygon points="774.0,235.9 768.0,234.1 768.0,237.7" fill="#222"/>
<text x="738" y="235.9" font-size="15" text-anchor="start" letter-spacing="0" stroke="#1a1a1a" stroke-width="0.3" >F</text>
<text x="686.5" y="232.8" font-size="15" text-anchor="start" letter-spacing="0" stroke="#1a1a1a" stroke-width="0.3" >CJ</text>
<line x1="668.4" y1="250.4" x2="774" y2="250.4" stroke="#202020" stroke-width="1.15"/>
<polygon points="668.4,250.4 674.4,248.6 674.4,252.2" fill="#222"/>
<polygon points="774.0,250.4 768.0,248.6 768.0,252.2" fill="#222"/>
<text x="716.5" y="248.9" font-size="15" text-anchor="start" letter-spacing="0" stroke="#1a1a1a" stroke-width="0.3" >CD</text>
<line x1="665.3" y1="272" x2="687.7" y2="272" stroke="#202020" stroke-width="1.15"/>
<polygon points="665.3,272.0 671.3,270.2 671.3,273.8" fill="#222"/>
<polygon points="687.7,272.0 681.7,270.2 681.7,273.8" fill="#222"/>
<text x="673.5" y="269.3" font-size="15" text-anchor="start" letter-spacing="0" stroke="#1a1a1a" stroke-width="0.3" >B</text>
<line x1="665.3" y1="268" x2="665.3" y2="306" stroke="#202020" stroke-width="1.15"/>
<line x1="687.7" y1="268" x2="687.7" y2="306" stroke="#202020" stroke-width="1.15"/>
<line x1="676.6" y1="276" x2="676.6" y2="402" stroke="#202020" stroke-width="1.15" stroke-dasharray="6 2 1.5 2"/>
<rect x="634" y="281.3" width="85.3" height="81.2" stroke="#202020" stroke-width="1.15" fill="none" stroke-dasharray="2.2 1.2" rx="3.5"/>
<circle cx="646.4" cy="292.2" r="7" stroke="#202020" stroke-width="1.15" fill="none" stroke-dasharray="1.5 1"/>
<circle cx="646.4" cy="292.2" r="3.9" stroke="#202020" stroke-width="0.9" fill="none"/>
<line x1="640.4" y1="292.2" x2="652.4" y2="292.2" stroke="#202020" stroke-width="0.7"/>
<line x1="646.4" y1="286.2" x2="646.4" y2="298.2" stroke="#202020" stroke-width="0.7"/>
<circle cx="707" cy="292.2" r="7" stroke="#202020" stroke-width="1.15" fill="none" stroke-dasharray="1.5 1"/>
<circle cx="707" cy="292.2" r="3.9" stroke="#202020" stroke-width="0.9" fill="none"/>
<line x1="701" y1="292.2" x2="713" y2="292.2" stroke="#202020" stroke-width="0.7"/>
<line x1="707" y1="286.2" x2="707" y2="298.2" stroke="#202020" stroke-width="0.7"/>
<circle cx="646.4" cy="352.8" r="7" stroke="#202020" stroke-width="1.15" fill="none" stroke-dasharray="1.5 1"/>
<circle cx="646.4" cy="352.8" r="3.9" stroke="#202020" stroke-width="0.9" fill="none"/>
<line x1="640.4" y1="352.8" x2="652.4" y2="352.8" stroke="#202020" stroke-width="0.7"/>
<line x1="646.4" y1="346.8" x2="646.4" y2="358.8" stroke="#202020" stroke-width="0.7"/>
<circle cx="707" cy="352.8" r="7" stroke="#202020" stroke-width="1.15" fill="none" stroke-dasharray="1.5 1"/>
<circle cx="707" cy="352.8" r="3.9" stroke="#202020" stroke-width="0.9" fill="none"/>
<line x1="701" y1="352.8" x2="713" y2="352.8" stroke="#202020" stroke-width="0.7"/>
<line x1="707" y1="346.8" x2="707" y2="358.8" stroke="#202020" stroke-width="0.7"/>
<line x1="628" y1="323.8" x2="724" y2="323.8" stroke="#202020" stroke-width="1.15" stroke-dasharray="4 2"/>
<rect x="655" y="296.6" width="10.3" height="52.4" stroke="#202020" stroke-width="1.15" fill="none" stroke-dasharray="2.2 1.2"/>
<rect x="687.7" y="296.6" width="10.3" height="52.4" stroke="#202020" stroke-width="1.15" fill="none" stroke-dasharray="2.2 1.2"/>
<path d="M652.4,305 L652.4,349 M701.8,305 L701.8,349" stroke="#202020" stroke-width="1.6" fill="none" stroke-dasharray="1.2 1" />
<line x1="655" y1="332" x2="665" y2="332" stroke="#202020" stroke-width="1.15" stroke-dasharray="2 1"/>
<line x1="687.7" y1="332" x2="698" y2="332" stroke="#202020" stroke-width="1.15" stroke-dasharray="2 1"/>
<path d="M665.3,306.2 L687.7,306.2 L687.7,341.4 L684.1,341.4 L684.1,356 Q684.5,362 692,362.5 L722,365.1 L726.3,365.1 L726.3,376.5 L626.7,376.5 L626.7,365.1 L631,365.1 L661,362.5 Q668.8,362 669.2,356 L669.2,341.4 L665.3,341.4 Z" stroke="#262626" stroke-width="1.5" fill="#d9d9d9" />
<line x1="666.2" y1="323.8" x2="666.2" y2="341.4" stroke="#222" stroke-width="2"/>
<line x1="686.8" y1="323.8" x2="686.8" y2="341.4" stroke="#222" stroke-width="2"/>
<line x1="669.2" y1="323.8" x2="669.2" y2="341.4" stroke="#444" stroke-width="0.8"/>
<line x1="684.1" y1="323.8" x2="684.1" y2="341.4" stroke="#444" stroke-width="0.8"/>
<rect x="635.8" y="366.5" width="10.6" height="9" stroke="#333" stroke-width="0.9" fill="none"/>
<line x1="641" y1="366.5" x2="641" y2="375.5" stroke="#202020" stroke-width="1.15"/>
<rect x="707" y="366.5" width="10.5" height="9" stroke="#333" stroke-width="0.9" fill="none"/>
<line x1="712.2" y1="366.5" x2="712.2" y2="375.5" stroke="#202020" stroke-width="1.15"/>
<line x1="641" y1="368" x2="641" y2="393" stroke="#202020" stroke-width="1.15"/>
<line x1="712.3" y1="368" x2="712.3" y2="393" stroke="#202020" stroke-width="1.15"/>
<line x1="641" y1="391.5" x2="712.3" y2="391.5" stroke="#202020" stroke-width="1.15"/>
<polygon points="641.0,391.5 647.0,389.7 647.0,393.3" fill="#222"/>
<polygon points="712.3,391.5 706.3,389.7 706.3,393.3" fill="#222"/>
<text x="673.5" y="389.7" font-size="15" text-anchor="start" letter-spacing="0" stroke="#1a1a1a" stroke-width="0.3" >H</text>
<line x1="626.7" y1="376.5" x2="626.7" y2="406" stroke="#202020" stroke-width="1.15"/>
<line x1="726.3" y1="376.5" x2="726.3" y2="406" stroke="#202020" stroke-width="1.15"/>
<line x1="626.7" y1="404.7" x2="726.3" y2="404.7" stroke="#202020" stroke-width="1.15"/>
<polygon points="626.7,404.7 632.7,402.9 632.7,406.5" fill="#222"/>
<polygon points="726.3,404.7 720.3,402.9 720.3,406.5" fill="#222"/>
<text x="677.5" y="401" font-size="15" text-anchor="middle" letter-spacing="0" stroke="#1a1a1a" stroke-width="0.3" >I</text>
<text x="654" y="423.7" font-size="14.6" text-anchor="start" letter-spacing="0.25" stroke="#1a1a1a" stroke-width="0.5" >View A</text>
<line x1="653.5" y1="427.5" x2="700.5" y2="427.5" stroke="#4a4a4a" stroke-width="2.3"/>
<text x="725.8" y="337.3" font-size="14.5" text-anchor="start" letter-spacing="0.2" stroke="#1a1a1a" stroke-width="0.3" >4-ΦL(Countersink)</text>
<line x1="725.8" y1="340.1" x2="824.6" y2="340.1" stroke="#202020" stroke-width="1.15"/>
<line x1="725.8" y1="340.1" x2="712.6" y2="362.7" stroke="#202020" stroke-width="1.15"/>
<text x="725.8" y="353.3" font-size="14.5" text-anchor="start" letter-spacing="-0.2" stroke="#1a1a1a" stroke-width="0.3" >4-ΦK(Thru.hole)</text>
<line x1="726.3" y1="364.6" x2="744" y2="364.6" stroke="#202020" stroke-width="1.15"/>
<line x1="726.3" y1="376" x2="744" y2="376" stroke="#202020" stroke-width="1.15"/>
<line x1="741.8" y1="356" x2="741.8" y2="386" stroke="#202020" stroke-width="1.15"/>
<polygon points="741.8,364.6 740.0,358.6 743.6,358.6" fill="#222"/>
<polygon points="741.8,376.0 740.0,382.0 743.6,382.0" fill="#222"/>
<text x="738" y="376" font-size="15" text-anchor="start" letter-spacing="0" stroke="#1a1a1a" stroke-width="0.3" transform="rotate(-90 738 376)" >G</text></svg>
<svg width="850" height="1025" style="position:absolute;left:0;top:0" font-family="Liberation Serif" fill="#1a1a1a"><line x1="177.5" y1="556.8" x2="520.6" y2="556.8" stroke="#202020" stroke-width="1.15"/>
<polygon points="177.5,556.8 183.5,555.0 183.5,558.6" fill="#222"/>
<polygon points="520.6,556.8 514.6,555.0 514.6,558.6" fill="#222"/>
<text x="340.5" y="554.2" font-size="14.5" text-anchor="start" letter-spacing="0.9" stroke="#1a1a1a" stroke-width="0.3" >A+Stroke</text>
<line x1="177.5" y1="554" x2="177.5" y2="661" stroke="#202020" stroke-width="1.15"/>
<line x1="520.6" y1="554" x2="520.6" y2="620.5" stroke="#202020" stroke-width="1.15"/>
<line x1="236.8" y1="573" x2="256.6" y2="573" stroke="#202020" stroke-width="1.15"/>
<polygon points="256.6,573.0 250.6,571.2 250.6,574.8" fill="#222"/>
<line x1="279.2" y1="573" x2="520.6" y2="573" stroke="#202020" stroke-width="1.15"/>
<polygon points="279.2,573.0 285.2,571.2 285.2,574.8" fill="#222"/>
<polygon points="520.6,573.0 514.6,571.2 514.6,574.8" fill="#222"/>
<text x="263.2" y="571" font-size="15" text-anchor="start" letter-spacing="0" stroke="#1a1a1a" stroke-width="0.3" >K</text>
<text x="377" y="570.5" font-size="14.5" text-anchor="start" letter-spacing="0.9" stroke="#1a1a1a" stroke-width="0.3" >C+Stroke</text>
<line x1="278.2" y1="571" x2="278.2" y2="608" stroke="#202020" stroke-width="1.15"/>
<line x1="235.5" y1="731" x2="235.5" y2="786" stroke="#202020" stroke-width="1.15"/>
<line x1="279.2" y1="731" x2="279.2" y2="786" stroke="#202020" stroke-width="1.15"/>
<line x1="235.5" y1="784" x2="279.2" y2="784" stroke="#202020" stroke-width="1.15"/>
<polygon points="235.5,784.0 241.5,782.2 241.5,785.8" fill="#222"/>
<polygon points="279.2,784.0 273.2,782.2 273.2,785.8" fill="#222"/>
<text x="255.6" y="781.2" font-size="15" text-anchor="start" letter-spacing="0" stroke="#1a1a1a" stroke-width="0.3" >F</text>
<path d="M241.2,608.1 L241.2,578.5 Q241.2,576.7 243,576.7 L271.7,576.7 Q273.5,576.7 273.5,578.5 L273.5,608.1" stroke="#262626" stroke-width="1.5" fill="#d9d9d9" />
<path d="M241.2,731.3 L241.2,761.5 Q241.2,763.3 243,763.3 L271.7,763.3 Q273.5,763.3 273.5,761.5 L273.5,731.3" stroke="#262626" stroke-width="1.5" fill="#d9d9d9" />
<rect x="235.5" y="608.1" width="43.7" height="123.2" stroke="#262626" stroke-width="1.5" fill="#d9d9d9"/>
<path d="M279.2,621.9 L257.5,621.9 Q255.6,621.9 255.6,624 L255.6,717 Q255.6,719 257.5,719 L279.2,719" stroke="#262626" stroke-width="1.2" fill="#d9d9d9" />
<path d="M235.5,632 Q238,631 246,631 M235.5,708 Q238,709 246,709" stroke="#262626" stroke-width="1.1" fill="none" />
<rect x="246.2" y="624.7" width="9.4" height="18.8" stroke="#262626" stroke-width="1.1" fill="#e8e8e8"/>
<rect x="246.2" y="697" width="9.4" height="18.8" stroke="#262626" stroke-width="1.1" fill="#e8e8e8"/>
<path d="M248,630 Q253,634 248,638 M248,702 Q253,706 248,710" stroke="#262626" stroke-width="0.8" fill="none" />
<line x1="257" y1="568" x2="257" y2="790" stroke="#202020" stroke-width="1.15" stroke-dasharray="11 2.5 2 2.5"/>
<line x1="170" y1="670.3" x2="535" y2="670.3" stroke="#202020" stroke-width="1.15" stroke-dasharray="11 2.5 2 2.5"/>
<rect x="177.5" y="659.5" width="17.9" height="21.7" stroke="#202020" stroke-width="1.15" fill="none" stroke-dasharray="2.2 1.2"/>
<path d="M197.5,652 L206.5,652 Q208.6,652 208.6,654 L208.6,686.7 Q208.6,688.7 206.5,688.7 L197.5,688.7 Q195.4,688.7 195.4,686.7 L195.4,654 Q195.4,652 197.5,652 Z" stroke="#202020" stroke-width="1.15" fill="none" stroke-dasharray="2.2 1.2" />
<line x1="195.4" y1="659.5" x2="208.6" y2="659.5" stroke="#202020" stroke-width="1.15" stroke-dasharray="2.2 1.2"/>
<line x1="195.4" y1="681.2" x2="208.6" y2="681.2" stroke="#202020" stroke-width="1.15" stroke-dasharray="2.2 1.2"/>
<rect x="208.6" y="659.5" width="11.3" height="21.7" stroke="#202020" stroke-width="1.15" fill="none" stroke-dasharray="2.2 1.2"/>
<rect x="219.9" y="654" width="15" height="15" stroke="#202020" stroke-width="1.15" fill="none" stroke-dasharray="1.5 1"/>
<rect x="219.9" y="671.5" width="15" height="15" stroke="#202020" stroke-width="1.15" fill="none" stroke-dasharray="1.5 1"/>
<path d="M222,656 L233,667 M233,656 L222,667 M222,674 L233,685 M233,674 L222,685" stroke="#202020" stroke-width="0.8" fill="none" stroke-dasharray="1.5 1" />
<path d="M279.2,620.2 L338.1,620.2 L338.1,719.9 L279.2,719.9" stroke="#202020" stroke-width="1.15" fill="none" stroke-dasharray="2.2 1.2" />
<rect x="461" y="620.2" width="59.6" height="99.7" stroke="#202020" stroke-width="1.15" fill="none" stroke-dasharray="2.2 1.2"/>
<line x1="338.1" y1="629.3" x2="461" y2="629.3" stroke="#202020" stroke-width="1.15" stroke-dasharray="2.2 1.2"/>
<line x1="338.1" y1="642.2" x2="461" y2="642.2" stroke="#202020" stroke-width="1.15" stroke-dasharray="2.2 1.2"/>
<line x1="338.1" y1="698.4" x2="461" y2="698.4" stroke="#202020" stroke-width="1.15" stroke-dasharray="2.2 1.2"/>
<line x1="338.1" y1="712.1" x2="461" y2="712.1" stroke="#202020" stroke-width="1.15" stroke-dasharray="2.2 1.2"/>
<line x1="279.2" y1="635.2" x2="528" y2="635.2" stroke="#202020" stroke-width="1.15" stroke-dasharray="11 2.5 2 2.5"/>
<line x1="279.2" y1="705.1" x2="528" y2="705.1" stroke="#202020" stroke-width="1.15" stroke-dasharray="11 2.5 2 2.5"/>
<path d="M520.6,637 L526,637 Q527,637 527,638 L527,702 Q527,703 526,703 L520.6,703" stroke="#202020" stroke-width="0.9" fill="none" />
<circle cx="323.9" cy="653.4" r="8" stroke="#202020" stroke-width="1.4" fill="none" stroke-dasharray="1.6 1"/>
<circle cx="323.9" cy="653.4" r="4.2" stroke="#202020" stroke-width="1.3" fill="none"/>
<circle cx="323.9" cy="653.4" r="1.5" stroke="#202020" stroke-width="0.9" fill="none"/>
<line x1="323.9" y1="643" x2="323.9" y2="664" stroke="#202020" stroke-width="0.7"/>
<line x1="313.9" y1="653.4" x2="333.9" y2="653.4" stroke="#202020" stroke-width="0.7"/>
<circle cx="474.8" cy="653.4" r="8" stroke="#202020" stroke-width="1.4" fill="none" stroke-dasharray="1.6 1"/>
<circle cx="474.8" cy="653.4" r="4.2" stroke="#202020" stroke-width="1.3" fill="none"/>
<circle cx="474.8" cy="653.4" r="1.5" stroke="#202020" stroke-width="0.9" fill="none"/>
<line x1="474.8" y1="643" x2="474.8" y2="664" stroke="#202020" stroke-width="0.7"/>
<line x1="464.8" y1="653.4" x2="484.8" y2="653.4" stroke="#202020" stroke-width="0.7"/>
<circle cx="308.4" cy="681.6" r="12.5" stroke="#202020" stroke-width="1.15" fill="none" stroke-dasharray="2 1.2"/>
<line x1="295.4" y1="681.6" x2="321.4" y2="681.6" stroke="#202020" stroke-width="0.8" stroke-dasharray="3 1.5"/>
<line x1="308.4" y1="668" x2="308.4" y2="695" stroke="#202020" stroke-width="0.8" stroke-dasharray="3 1.5"/>
<circle cx="490.8" cy="681.6" r="12.5" stroke="#202020" stroke-width="1.15" fill="none" stroke-dasharray="2 1.2"/>
<line x1="477.8" y1="681.6" x2="503.8" y2="681.6" stroke="#202020" stroke-width="0.8" stroke-dasharray="3 1.5"/>
<line x1="490.8" y1="668" x2="490.8" y2="695" stroke="#202020" stroke-width="0.8" stroke-dasharray="3 1.5"/>
<text x="619.4" y="562.2" font-size="15" text-anchor="start" letter-spacing="0.5" stroke="#1a1a1a" stroke-width="0.3" >ΦCA</text>
<line x1="618" y1="565.3" x2="649.9" y2="565.3" stroke="#202020" stroke-width="1.15"/>
<polygon points="618.0,565.3 624.0,563.5 624.0,567.1" fill="#222"/>
<polygon points="649.9,565.3 643.9,563.5 643.9,567.1" fill="#222"/>
<line x1="618" y1="562" x2="618" y2="577.5" stroke="#202020" stroke-width="1.15"/>
<line x1="649.9" y1="562" x2="649.9" y2="577.5" stroke="#202020" stroke-width="1.15"/>
<line x1="556.7" y1="577.5" x2="618" y2="577.5" stroke="#202020" stroke-width="1.15"/>
<line x1="556.7" y1="762.4" x2="618" y2="762.4" stroke="#202020" stroke-width="1.15"/>
<line x1="557.9" y1="577.5" x2="557.9" y2="762.4" stroke="#202020" stroke-width="1.15"/>
<polygon points="557.9,577.5 556.1,583.5 559.7,583.5" fill="#222"/>
<polygon points="557.9,762.4 556.1,756.4 559.7,756.4" fill="#222"/>
<text x="557.9" y="678" font-size="15" text-anchor="start" letter-spacing="0.5" stroke="#1a1a1a" stroke-width="0.3" transform="rotate(-90 557.9 678)" >AA</text>
<line x1="570" y1="609" x2="612.9" y2="609" stroke="#202020" stroke-width="1.15"/>
<line x1="570" y1="730.8" x2="612.9" y2="730.8" stroke="#202020" stroke-width="1.15"/>
<line x1="572.6" y1="609" x2="572.6" y2="730.8" stroke="#202020" stroke-width="1.15"/>
<polygon points="572.6,609.0 570.8,615.0 574.4,615.0" fill="#222"/>
<polygon points="572.6,730.8 570.8,724.8 574.4,724.8" fill="#222"/>
<text x="572.6" y="672.5" font-size="15" text-anchor="start" letter-spacing="0" stroke="#1a1a1a" stroke-width="0.3" transform="rotate(-90 572.6 672.5)" >B</text>
<line x1="671" y1="632.5" x2="704" y2="632.5" stroke="#202020" stroke-width="1.15"/>
<line x1="671" y1="707.4" x2="704" y2="707.4" stroke="#202020" stroke-width="1.15"/>
<line x1="701.4" y1="632.5" x2="701.4" y2="707.4" stroke="#202020" stroke-width="1.15"/>
<polygon points="701.4,632.5 699.6,638.5 703.2,638.5" fill="#222"/>
<polygon points="701.4,707.4 699.6,701.4 703.2,701.4" fill="#222"/>
<line x1="685" y1="619.1" x2="720.6" y2="619.1" stroke="#202020" stroke-width="1.15"/>
<line x1="685" y1="720.2" x2="720.6" y2="720.2" stroke="#202020" stroke-width="1.15"/>
<line x1="717.8" y1="619.1" x2="717.8" y2="720.2" stroke="#202020" stroke-width="1.15"/>
<polygon points="717.8,619.1 716.0,625.1 719.6,625.1" fill="#222"/>
<polygon points="717.8,720.2 716.0,714.2 719.6,714.2" fill="#222"/>
<text x="699.4" y="664.8" font-size="15" text-anchor="start" letter-spacing="0" stroke="#1a1a1a" stroke-width="0.3" transform="rotate(-90 699.4 664.8)" >D</text>
<text x="715.9" y="664.6" font-size="15" text-anchor="start" letter-spacing="0" stroke="#1a1a1a" stroke-width="0.3" transform="rotate(-90 715.9 664.6)" >E</text>
<rect x="688.4" y="666.6" width="11.2" height="11.8" stroke="#202020" stroke-width="1.2" fill="none"/>
<rect x="704.6" y="666.6" width="11.2" height="11.8" stroke="#202020" stroke-width="1.2" fill="none"/>
<rect x="618" y="577.5" width="31.9" height="31.5" stroke="#262626" stroke-width="1.5" fill="#d9d9d9"/>
<rect x="618" y="730.8" width="31.9" height="31.6" stroke="#262626" stroke-width="1.5" fill="#d9d9d9"/>
<rect x="582.5" y="619.1" width="102.5" height="101.1" stroke="#262626" stroke-width="1.5" fill="#d9d9d9" rx="4.7"/>
<rect x="612.9" y="609" width="42.1" height="121.8" stroke="#262626" stroke-width="1.5" fill="#d9d9d9"/>
<circle cx="634" cy="669.9" r="41" stroke="#262626" stroke-width="1.5" fill="#d9d9d9"/>
<circle cx="634" cy="669.9" r="34.6" stroke="#262626" stroke-width="1.5" fill="#ffffff"/>
<circle cx="596.5" cy="632.5" r="10.5" stroke="#262626" stroke-width="2.2" fill="#d9d9d9"/>
<circle cx="596.5" cy="632.5" r="6.8" stroke="#262626" stroke-width="1.5" fill="#fff"/>
<line x1="591.5" y1="632.5" x2="601.5" y2="632.5" stroke="#202020" stroke-width="0.6" stroke-dasharray="1 1"/>
<line x1="596.5" y1="627.5" x2="596.5" y2="637.5" stroke="#202020" stroke-width="0.6" stroke-dasharray="1 1"/>
<circle cx="671.4" cy="632.5" r="10.5" stroke="#262626" stroke-width="2.2" fill="#d9d9d9"/>
<circle cx="671.4" cy="632.5" r="6.8" stroke="#262626" stroke-width="1.5" fill="#fff"/>
<line x1="666.4" y1="632.5" x2="676.4" y2="632.5" stroke="#202020" stroke-width="0.6" stroke-dasharray="1 1"/>
<line x1="671.4" y1="627.5" x2="671.4" y2="637.5" stroke="#202020" stroke-width="0.6" stroke-dasharray="1 1"/>
<circle cx="596.5" cy="707.4" r="10.5" stroke="#262626" stroke-width="2.2" fill="#d9d9d9"/>
<circle cx="596.5" cy="707.4" r="6.8" stroke="#262626" stroke-width="1.5" fill="#fff"/>
<line x1="591.5" y1="707.4" x2="601.5" y2="707.4" stroke="#202020" stroke-width="0.6" stroke-dasharray="1 1"/>
<line x1="596.5" y1="702.4" x2="596.5" y2="712.4" stroke="#202020" stroke-width="0.6" stroke-dasharray="1 1"/>
<circle cx="671.4" cy="707.4" r="10.5" stroke="#262626" stroke-width="2.2" fill="#d9d9d9"/>
<circle cx="671.4" cy="707.4" r="6.8" stroke="#262626" stroke-width="1.5" fill="#fff"/>
<line x1="666.4" y1="707.4" x2="676.4" y2="707.4" stroke="#202020" stroke-width="0.6" stroke-dasharray="1 1"/>
<line x1="671.4" y1="702.4" x2="671.4" y2="712.4" stroke="#202020" stroke-width="0.6" stroke-dasharray="1 1"/>
<line x1="634" y1="570.4" x2="634" y2="768.2" stroke="#202020" stroke-width="1.15" stroke-dasharray="11 2.5 2 2.5"/>
<line x1="573" y1="669.9" x2="685.5" y2="669.9" stroke="#202020" stroke-width="1.15" stroke-dasharray="11 2.5 2 2.5"/></svg>

<svg width="850" height="1025" style="position:absolute;left:0;top:0;mix-blend-mode:multiply"><defs><filter id="wb" x="-20%" y="-20%" width="140%" height="140%"><feGaussianBlur stdDeviation="1.6"/></filter></defs>
<g transform="rotate(34 450 500)" filter="url(#wb)" fill="#dadada" stroke="#dadada" stroke-width="2" font-family="Liberation Sans" font-weight="bold">
<text x="432" y="514" font-size="125">e</text>
<text x="503" y="514" font-size="125">b</text>
<text x="583" y="514" font-size="125">i</text>
</g>
<line x1="300" y1="425" x2="600" y2="648" stroke="#dadada" stroke-width="4.5" filter="url(#wb)"/>
<g stroke="#dedede" fill="none" stroke-linecap="butt" filter="url(#wb)">
<line x1="329" y1="331" x2="380" y2="380" stroke-width="16"/>
<line x1="358" y1="372" x2="342" y2="470" stroke-width="15"/>
<line x1="375" y1="346" x2="419" y2="396" stroke-width="17"/>
<line x1="412" y1="360" x2="388" y2="412" stroke-width="14"/>
</g>
<g transform="rotate(34 450 500)" filter="url(#wb)" stroke="#dfdfdf" stroke-width="6.5" fill="none" stroke-linecap="butt" stroke-linejoin="miter">
<path d="M392,548 L382,568 M380,568 L418,563 M400,545 L400,632 M382,612 L420,592 M428,562 L468,560 M448,543 L448,585 M422,585 L472,583 M420,604 L472,602 M457,595 L457,632 L446,628 M432,614 L440,624"/>
<path d="M524,555 L522,619 M565,556 L565,591 M500,590 L545,575 M545,600 Q548,625 580,622 L590,605 M598,560 L585,580 M505,610 L495,625"/>
</g>
<g filter="url(#wb)" stroke="#dfdfdf" stroke-width="7" fill="none" stroke-linecap="butt" stroke-linejoin="round">
<path d="M229,484 L266,495 M267,475 L329,487 M302,452 L264,510 Q259,521 270,525 L296,527 L299,519 M245,470 L274,458 M300,448 L312,465"/>
</g></svg>
</body></html>
